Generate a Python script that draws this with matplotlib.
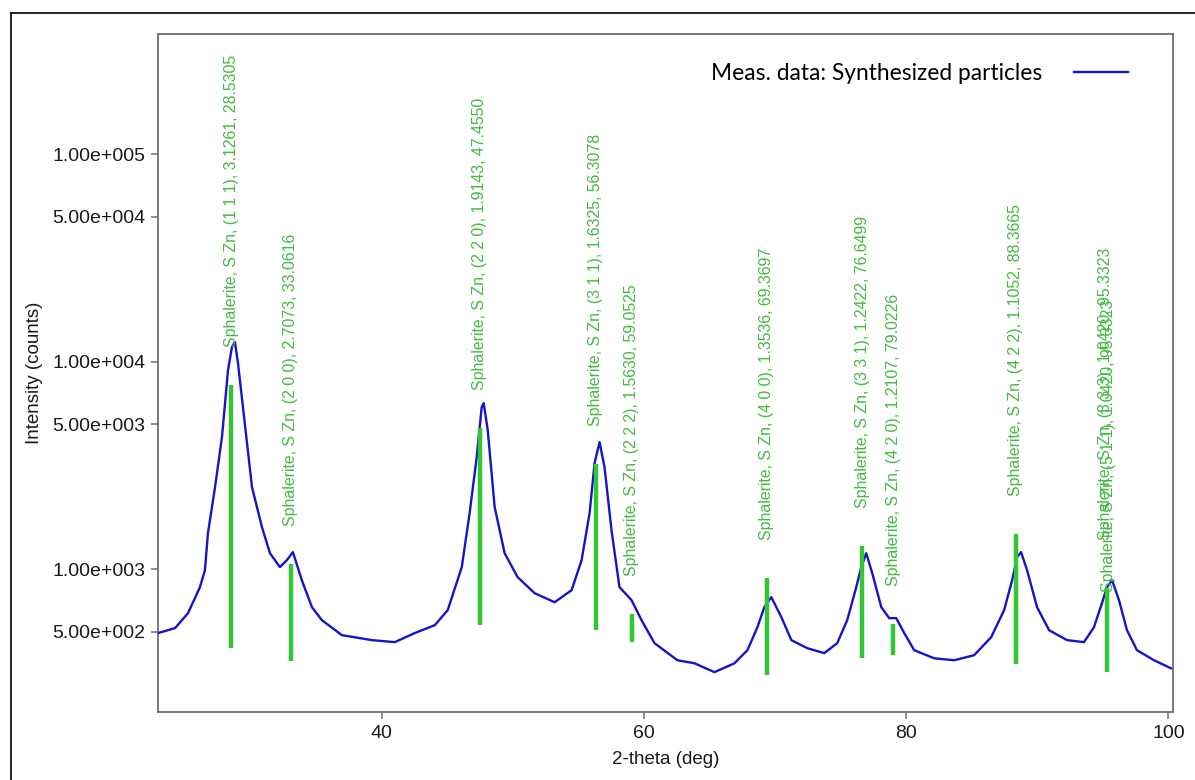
import numpy as np
import matplotlib
matplotlib.use("Agg")
from matplotlib import pyplot as plt
from matplotlib.lines import Line2D

two_theta = [22.93, 24.23, 25.22, 26.13, 26.51, 26.74, 27.28, 27.81, 28.27, 28.57,
             28.80, 29.03, 29.41, 30.10, 30.86, 31.47, 32.23, 32.76, 33.22, 33.90,
             34.67, 35.43, 36.95, 39.24, 40.99, 42.51, 44.04, 45.03, 46.10, 46.70,
             47.24, 47.62, 47.77, 48.08, 48.61, 49.37, 50.36, 51.66, 53.18, 54.48,
             55.24, 55.85, 56.23, 56.61, 56.99, 57.52, 58.13, 59.05, 59.81, 60.80,
             62.55, 63.85, 65.37, 66.90, 67.89, 68.65, 69.18, 69.71, 70.48, 71.24,
             72.46, 73.75, 74.74, 75.50, 76.19, 76.57, 76.95, 77.41, 78.10, 78.70,
             79.24, 79.85, 80.61, 82.13, 83.66, 85.18, 86.48, 87.47, 88.08, 88.46,
             88.76, 89.22, 89.98, 90.90, 92.27, 93.56, 94.32, 94.93, 95.31, 95.70,
             96.23, 96.84, 97.60, 98.90, 100.19]
counts = [492, 520, 614, 819, 989, 1491, 2485, 4328, 9100, 11740,
          12420, 9840, 6040, 2485, 1594, 1194, 1023, 1105, 1208, 885,
          656, 568, 481, 455, 445, 492, 537, 635, 1023, 1862,
          3466, 6040, 6310, 4677, 1990, 1194, 915, 766, 693, 792,
          1105, 1862, 3243, 4093, 3102, 1542, 819, 709, 568, 440,
          364, 352, 319, 352, 407, 525, 656, 733, 587, 455,
          416, 394, 440, 568, 819, 1023, 1194, 957, 656, 581,
          581, 492, 407, 372, 364, 385, 470, 635, 885, 1142,
          1208, 989, 656, 508, 455, 445, 525, 685, 819, 885,
          709, 508, 407, 364, 333]

# Reference sticks (Sphalerite, ZnS)
ref_pos = [28.5305, 33.0616, 47.4550, 56.3078, 59.0525, 69.3697, 76.6499, 79.0226, 88.3665, 95.3323]
ref_top = [7710, 1057, 4785, 3206, 607, 905, 1291, 543, 1474, 810]
ref_bottom = [416, 360, 537, 508, 445, 308, 372, 385, 349, 319]

hkl = ["1 1 1", "2 0 0", "2 2 0", "3 1 1", "2 2 2", "4 0 0", "3 3 1", "4 2 0", "4 2 2", "3 3 3", "5 1 1"]
d_spacing = ["3.1261", "2.7073", "1.9143", "1.6325", "1.5630", "1.3536", "1.2422", "1.2107", "1.1052", "1.0420", "1.0420"]
label_pos = ["28.5305", "33.0616", "47.4550", "56.3078", "59.0525", "69.3697", "76.6499", "79.0226", "88.3665", "95.3323", "95.3323"]
label_stick = [0, 1, 2, 3, 4, 5, 6, 7, 8, 9, 9]

y_ticks = [5e2, 1e3, 5e3, 1e4, 5e4, 1e5]
y_tick_labels = ["5.00e+002", "1.00e+003", "5.00e+003", "1.00e+004", "5.00e+004", "1.00e+005"]
x_ticks = [40, 60, 80, 100]

# label offsets (points) above stick tops; last two overlap like the original
label_dx = [0, 0, 0, 0, 0, 0, 0, 0, 0, -1.5, 1.0]
label_dy = [27.5] * 9 + [34.5, -3.0]

plt.rcParams['font.family'] = ['Liberation Sans', 'DejaVu Sans']

fig = plt.figure(figsize=(11.95, 7.8), dpi=100)
ax = fig.add_axes([158 / 1195, 1 - 712 / 780, (1173 - 158) / 1195, (712 - 34) / 780])

line, = ax.plot(two_theta, counts, color="#1414c8", lw=1.7, zorder=3)
ax.vlines(ref_pos, ref_bottom, ref_top, color="#33c633", lw=3.2, zorder=4)

for i, stick in enumerate(label_stick):
    text = f"Sphalerite, S Zn, ({hkl[i]}), {d_spacing[i]}, {label_pos[i]}"
    ax.annotate(text, xy=(ref_pos[stick], ref_top[stick]), xytext=(label_dx[i], label_dy[i]),
                textcoords="offset points", rotation=90, ha="center", va="bottom",
                fontsize=11.4, color="#44b844", zorder=5)

ax.set_yscale("log")
ax.set_xlim(22.93, 100.35)
ax.set_ylim(205, 3.79e5)
ax.set_yticks(y_ticks)
ax.set_yticklabels(y_tick_labels)
ax.yaxis.set_minor_locator(matplotlib.ticker.NullLocator())
ax.set_xticks(x_ticks)
ax.set_xticklabels([str(v) for v in x_ticks])

for s in ax.spines.values():
    s.set_color("#6e6e6e")
    s.set_linewidth(1.3)
ax.tick_params(direction="out", length=5, width=1.1, color="#6e6e6e", labelsize=14, labelcolor="#1a1a1a", pad=4)

ax.set_xlabel("2-theta (deg)", fontsize=13.5, color="#1a1a1a")
ax.set_ylabel("Intensity (counts)", fontsize=13.5, color="#1a1a1a")
ax.xaxis.set_label_coords(0.5, -0.057)
ax.yaxis.set_label_coords(-0.113, 0.5)

leg = ax.legend([line], ["Meas. data: Synthesized particles"], loc="center right",
                bbox_to_anchor=(1128 / 1195, 1 - 73 / 780), bbox_transform=fig.transFigure,
                frameon=False, markerfirst=False, borderpad=0, borderaxespad=0,
                handlelength=2.35, handletextpad=1.4, prop={"family": "Lato", "size": 16.4})

# outer frame of the picture
fig.add_artist(Line2D([11 / 1195, 1.0], [1 - 13 / 780, 1 - 13 / 780], color="black", lw=1.2, transform=fig.transFigure))
fig.add_artist(Line2D([11 / 1195, 11 / 1195], [0.0, 1 - 13 / 780], color="black", lw=1.2, transform=fig.transFigure))

fig.savefig("out.png", dpi=100)
